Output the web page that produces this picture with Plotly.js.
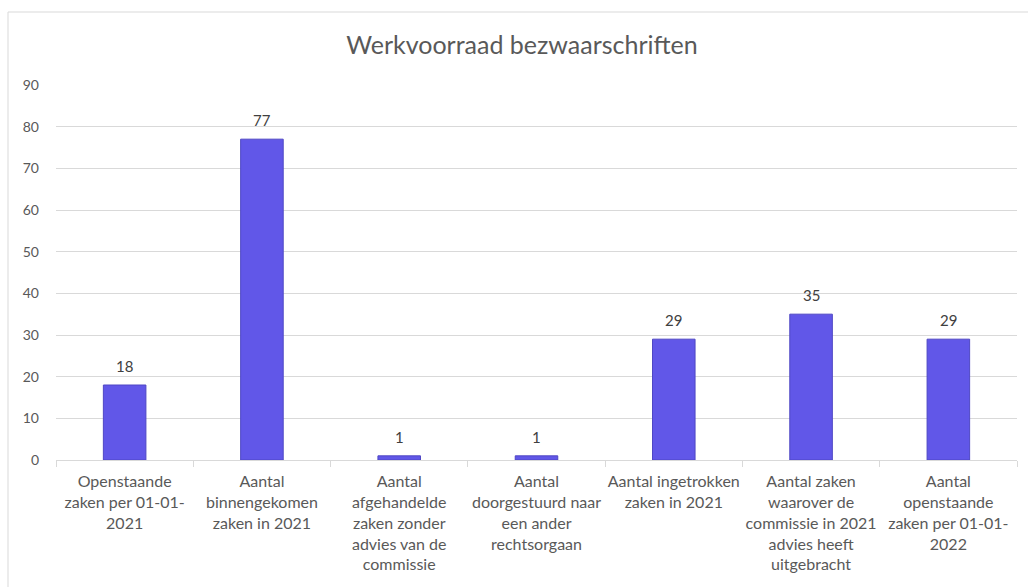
<!DOCTYPE html>
<html>
<head>
<meta charset="utf-8">
<script src="https://cdn.plot.ly/plotly-3.0.1.min.js"></script>
<style>
html,body{margin:0;padding:0;background:#fff;}
#chart{width:1028px;height:587px;}
</style>
</head>
<body>
<div id="chart"></div>
<script>
const categories = [
  "Openstaande<br>zaken per 01-01-<br>2021",
  "Aantal<br>binnengekomen<br>zaken in 2021",
  "Aantal<br>afgehandelde<br>zaken zonder<br>advies van de<br>commissie",
  "Aantal<br>doorgestuurd naar<br>een ander<br>rechtsorgaan",
  "Aantal ingetrokken<br>zaken in 2021",
  "Aantal zaken<br>waarover de<br>commissie in 2021<br>advies heeft<br>uitgebracht",
  "Aantal<br>openstaande<br>zaken per 01-01-<br>2022"
];
const values = [18, 77, 1, 1, 29, 35, 29];
const yTicks = [0, 10, 20, 30, 40, 50, 60, 70, 80, 90];
const chartTitle = "Werkvoorraad bezwaarschriften";

const FONT = "Lato, 'Open Sans', sans-serif";

const trace = {
  type: "bar",
  x: categories,
  y: values,
  marker: {color: "#6157e8", line: {color: "#4f47c4", width: 1}},
  hoverinfo: "skip"
};

const annotations = categories.map((c, i) => ({
  x: c, y: values[i], xref: "x", yref: "y",
  text: String(values[i]),
  showarrow: false, yanchor: "bottom", yshift: 8,
  font: {family: FONT, size: 15, color: "#404040"}
}));

const layout = {
  width: 1028, height: 587,
  margin: {l: 56, r: 11, t: 85, b: 127},
  paper_bgcolor: "#ffffff",
  plot_bgcolor: "#ffffff",
  showlegend: false,
  bargap: 0.69,
  title: {
    text: chartTitle,
    font: {family: FONT, size: 25, color: "#595959"},
    x: (522 - 56) / 961, xref: "paper", xanchor: "center",
    y: 1 - 45/587, yanchor: "middle"
  },
  xaxis: {
    type: "category",
    showgrid: false,
    showline: true, linecolor: "#d9d9d9", linewidth: 1,
    ticks: "outside", tickson: "boundaries", ticklen: 6, tickcolor: "#d9d9d9", tickwidth: 1,
    ticklabelstandoff: 7,
    tickfont: {family: FONT, size: 16, color: "#595959"},
    tickangle: 0,
    automargin: false
  },
  yaxis: {
    range: [0, 90],
    tickvals: yTicks,
    showgrid: true, gridcolor: "#d9d9d9", gridwidth: 1,
    zeroline: false, showline: false, ticks: "",
    ticklabelstandoff: 16,
    tickfont: {family: FONT, size: 14, color: "#595959"},
    automargin: false
  },
  annotations: annotations,
  shapes: [{
    type: "rect", xref: "paper", yref: "paper",
    x0: (8 - 56) / 961, x1: 1.05,
    y0: -0.5, y1: (460 - 12) / 375,
    line: {color: "#d9d9d9", width: 1},
    fillcolor: "rgba(0,0,0,0)", layer: "below"
  }]
};

Plotly.newPlot("chart", [trace], layout, {staticPlot: true, displayModeBar: false});
</script>
</body>
</html>
